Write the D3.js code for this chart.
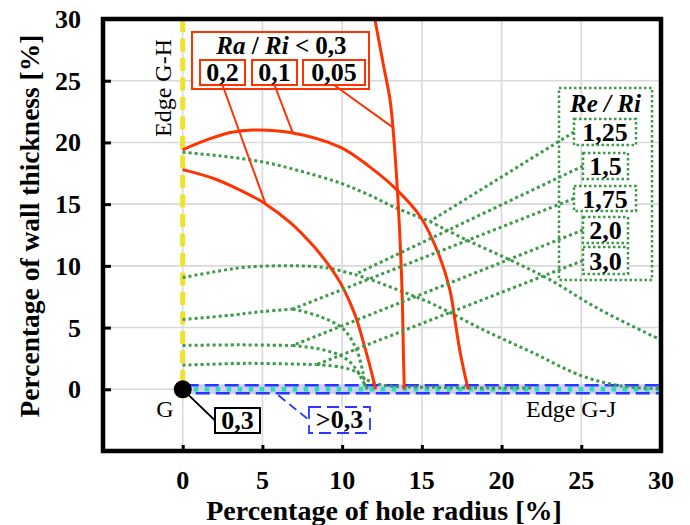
<!DOCTYPE html>
<html><head><meta charset="utf-8">
<script src="https://cdn.jsdelivr.net/npm/d3@7"></script>
<style>
body{margin:0;background:#fff}
svg{display:block}
text{font-family:"Liberation Serif","Times New Roman",serif;fill:#000}
</style>
</head><body>
<svg id="c" width="690" height="525"></svg>
<script>
// ---------- data ----------
const xTicks = [0, 5, 10, 15, 20, 25, 30];
const yTicks = [0, 5, 10, 15, 20, 25, 30];

// Ra/Ri curves (red)
const raNames = ["0,2", "0,1", "0,05"];
const ra02  = [[0,17.8],[1.9,17.1],[3.5,16.2],[5.1,15.1],[6.75,13.5],[8.2,11.6],[9.25,9.9],[9.9,8.6],[10.5,7.0],[10.9,5.7],[11.4,3.5],[11.8,1.6],[12.1,0]];
const ra01  = [[0,19.4],[1.5,20.2],[3.0,20.8],[4.4,21.0],[6.75,20.8],[9.9,19.6],[11.75,18.0],[13.4,16.2],[14.9,14.0],[16.1,10.8],[16.75,8.1],[17.1,5.4],[17.4,3.0],[17.9,0]];
const ra005 = [[12.05,30],[12.6,26.2],[13.0,23.5],[13.2,21.0],[13.5,15.4],[13.75,8.3],[13.85,2.5],[13.9,0]];
const raSeries = [ra02, ra01, ra005];
// leader anchor points on the red curves
const raAnchors = [[5.2,15.0],[6.9,20.8],[13.2,21.2]];

// Re/Ri curves (green dotted)
const reNames = ["1,25", "1,5", "1,75", "2,0", "3,0"];
const re125 = [[0,19.2],[2.4,18.9],[5.1,18.4],[7.6,17.6],[9.9,16.7],[11.6,15.8],[13.2,14.8],[15.5,13.6],[17.8,12.1],[20.5,10.5],[23,8.9],[26.1,6.5],[30,4.0]];
const re15  = [[0,9.05],[1.9,9.5],[4.0,9.9],[7.2,10.0],[9.0,9.85],[10.8,9.3],[11.75,8.9],[13.6,8.0],[15.7,6.9],[18.8,4.85],[21.9,3.0],[25,1.1],[27.6,0.25],[30,0.05]];
const re175 = [[0,5.66],[3,6.0],[5,6.3],[6.9,6.5],[8.6,5.9],[10.1,4.85],[10.9,3.2],[11.3,1.4],[11.45,0]];
const re20  = [[0,3.55],[3.5,3.6],[6.9,3.55],[8.8,3.2],[10.1,2.6],[10.9,1.6],[11.3,0.65],[11.6,0]];
const re30  = [[0,1.95],[4,2.1],[8.4,2.0],[9.9,1.8],[10.9,1.4],[11.5,0.8],[12.5,0.35],[16,0.15],[22,0.1]];
const reSeries = [re125, re15, re175, re20, re30];
// leader anchor points (kinks) on the green curves
const reAnchors = [[15.5,13.6],[10.8,9.3],[6.9,6.5],[6.9,3.55],[8.4,2.0]];

// edge G-J labels
const gjNames = ["0,3", ">0,3"];

// ---------- layout ----------
const x = d3.scaleLinear().domain([-5, 30]).range([103, 661]);
const y = d3.scaleLinear().domain([-5, 30]).range([451, 19]);

const svg = d3.select("#c");
const RED = "#ff3300", GREEN = "#3d9a48", BLUE = "#2a35ff", TEAL = "#22e2b2", YEL = "#eee22a";
const LBL = 26;   // box label font size

// gridlines
svg.append("g").selectAll("line").data(xTicks.filter(d => d < 30)).join("line")
  .attr("x1", d => x(d)).attr("x2", d => x(d)).attr("y1", y(-5)).attr("y2", y(30))
  .attr("stroke", "#d9d9d9").attr("stroke-width", 1.6);
svg.append("g").selectAll("line").data(yTicks.filter(d => d < 30)).join("line")
  .attr("y1", d => y(d)).attr("y2", d => y(d)).attr("x1", x(-5)).attr("x2", x(30))
  .attr("stroke", "#d9d9d9").attr("stroke-width", 1.6);

// axes via d3 axis (inward ticks)
const gx = svg.append("g").attr("transform", `translate(0,${y(-5)})`)
  .call(d3.axisBottom(x).tickValues(xTicks).tickSize(-6).tickFormat(""));
const gy = svg.append("g").attr("transform", `translate(${x(-5)},0)`)
  .call(d3.axisLeft(y).tickValues(yTicks).tickSize(-8).tickFormat(""));
[gx, gy].forEach(g => {
  g.select(".domain").remove();
  g.selectAll(".tick line").attr("stroke", "#000").attr("stroke-width", 3);
});
// tick labels
svg.append("g").selectAll("text").data(xTicks).join("text")
  .attr("x", d => x(d)).attr("y", 489).attr("text-anchor", "middle")
  .attr("font-size", 26).attr("font-weight", "bold").text(d => d);
svg.append("g").selectAll("text").data(yTicks).join("text")
  .attr("x", 81).attr("y", d => y(d) + 9).attr("text-anchor", "end")
  .attr("font-size", 26).attr("font-weight", "bold").text(d => d);

// axis titles
svg.append("text").attr("x", 384).attr("y", 520).attr("text-anchor", "middle")
  .attr("font-size", 28).attr("font-weight", "bold").text("Percentage of hole radius [%]");
svg.append("text").attr("transform", "translate(39,226) rotate(-90)").attr("text-anchor", "middle")
  .attr("font-size", 27.5).attr("font-weight", "bold").text("Percentage of wall thickness [%]");

const line = d3.line().x(d => x(d[0])).y(d => y(d[1])).curve(d3.curveCatmullRom.alpha(0.5));

// edge G-J band
svg.append("rect").attr("x", x(0)).attr("width", x(30) - x(0))
  .attr("y", y(0) - 5).attr("height", 10).attr("fill", "#cfd0f2");
svg.append("line").attr("x1", x(0) + 2).attr("x2", x(30)).attr("y1", y(0) - 4).attr("y2", y(0) - 4)
  .attr("stroke", BLUE).attr("stroke-width", 2.6).attr("stroke-dasharray", "14,6");
svg.append("line").attr("x1", x(0) + 2).attr("x2", x(30)).attr("y1", y(0) + 4).attr("y2", y(0) + 4)
  .attr("stroke", BLUE).attr("stroke-width", 2.6).attr("stroke-dasharray", "14,6").attr("stroke-dashoffset", 9);
svg.append("line").attr("x1", x(0)).attr("x2", x(30)).attr("y1", y(0)).attr("y2", y(0))
  .attr("stroke", TEAL).attr("stroke-width", 4.5).attr("stroke-dasharray", "4.5,6.5");

// edge G-H yellow dashed
svg.append("line").attr("x1", x(0)).attr("x2", x(0)).attr("y1", y(30)).attr("y2", y(0))
  .attr("stroke", YEL).attr("stroke-width", 5).attr("stroke-dasharray", "13,6.5");

// green curves split at kink
const gG = svg.append("g").attr("fill", "none").attr("stroke", GREEN)
  .attr("stroke-width", 3).attr("stroke-dasharray", "3,3");
reSeries.forEach((s, i) => {
  const k = reAnchors[i][0];
  const a = s.filter(p => p[0] <= k), b = s.filter(p => p[0] >= k);
  gG.append("path").attr("d", line(a));
  gG.append("path").attr("d", line(b));
});

// red curves
const gR = svg.append("g").attr("fill", "none").attr("stroke", RED).attr("stroke-width", 3);
raSeries.forEach(s => gR.append("path").attr("d", line(s)));

// ---- Ra/Ri legend ----
const raBox = {x: 192, y: 32, w: 177, h: 57};
const raSub = [{x: 200, w: 45}, {x: 252, w: 45}, {x: 303, w: 62}];
const subY = 60, subH = 25;
svg.append("rect").attr("x", raBox.x).attr("y", raBox.y).attr("width", raBox.w).attr("height", raBox.h)
  .attr("fill", "#fff").attr("stroke", RED).attr("stroke-width", 2);
const t1 = svg.append("text").attr("x", raBox.x + raBox.w / 2 + 1).attr("y", 54)
  .attr("text-anchor", "middle").attr("font-size", 25).attr("font-weight", "bold");
t1.append("tspan").attr("font-style", "italic").text("Ra");
t1.append("tspan").text(" / ");
t1.append("tspan").attr("font-style", "italic").text("Ri");
t1.append("tspan").text(" < 0,3");
raSub.forEach((b, i) => {
  svg.append("line").attr("x1", b.x + b.w / 2).attr("y1", subY + subH)
    .attr("x2", x(raAnchors[i][0])).attr("y2", y(raAnchors[i][1]))
    .attr("stroke", RED).attr("stroke-width", 2);
  svg.append("rect").attr("x", b.x).attr("y", subY).attr("width", b.w).attr("height", subH)
    .attr("fill", "#fff").attr("stroke", RED).attr("stroke-width", 2);
  svg.append("text").attr("x", b.x + b.w / 2).attr("y", subY + 21).attr("text-anchor", "middle")
    .attr("font-size", LBL).attr("font-weight", "bold").text(raNames[i]);
});

// ---- Re/Ri legend ----
const reBox = {x: 559, y: 88, w: 93, h: 192};
const reSub = [{x: 574, y: 119, w: 62, h: 26}, {x: 583, y: 153, w: 45, h: 26}, {x: 574, y: 186, w: 62, h: 25},
               {x: 583, y: 217, w: 45, h: 26}, {x: 583, y: 247, w: 45, h: 27}];
reSub.forEach((b, i) => {
  svg.append("line").attr("x1", b.x).attr("y1", b.y + b.h / 2)
    .attr("x2", x(reAnchors[i][0])).attr("y2", y(reAnchors[i][1]))
    .attr("stroke", GREEN).attr("stroke-width", 3).attr("stroke-dasharray", "3,3");
});
svg.append("rect").attr("x", reBox.x).attr("y", reBox.y).attr("width", reBox.w).attr("height", reBox.h)
  .attr("fill", "none").attr("stroke", GREEN).attr("stroke-width", 2.5).attr("stroke-dasharray", "2.5,2.5");
const t2 = svg.append("text").attr("x", reBox.x + reBox.w / 2).attr("y", 112)
  .attr("text-anchor", "middle").attr("font-size", 25).attr("font-weight", "bold").attr("font-style", "italic");
t2.append("tspan").text("Re");
t2.append("tspan").text(" / ");
t2.append("tspan").text("Ri");
reSub.forEach((b, i) => {
  svg.append("rect").attr("x", b.x).attr("y", b.y).attr("width", b.w).attr("height", b.h)
    .attr("fill", "#fff").attr("stroke", GREEN).attr("stroke-width", 2.5).attr("stroke-dasharray", "2.5,2.5");
  svg.append("text").attr("x", b.x + b.w / 2).attr("y", b.y + b.h / 2 + 9).attr("text-anchor", "middle")
    .attr("font-size", LBL).attr("font-weight", "bold").text(reNames[i]);
});

// ---- G point and labels ----
const b03 = {x: 215, y: 408, w: 45, h: 25};
const bgt = {x: 309, y: 407, w: 61, h: 26};
svg.append("line").attr("x1", x(0)).attr("y1", y(0)).attr("x2", b03.x).attr("y2", b03.y + b03.h / 2)
  .attr("stroke", "#000").attr("stroke-width", 1.8);
svg.append("line").attr("x1", x(6)).attr("y1", y(0) + 6).attr("x2", bgt.x).attr("y2", bgt.y + 13)
  .attr("stroke", BLUE).attr("stroke-width", 1.8).attr("stroke-dasharray", "9,5");
svg.append("circle").attr("cx", x(0)).attr("cy", y(0)).attr("r", 9).attr("fill", "#000");
svg.append("rect").attr("x", b03.x).attr("y", b03.y).attr("width", b03.w).attr("height", b03.h)
  .attr("fill", "#fff").attr("stroke", "#000").attr("stroke-width", 2);
svg.append("text").attr("x", b03.x + b03.w / 2).attr("y", b03.y + 21).attr("text-anchor", "middle")
  .attr("font-size", LBL).attr("font-weight", "bold").text(gjNames[0]);
svg.append("rect").attr("x", bgt.x).attr("y", bgt.y).attr("width", bgt.w).attr("height", bgt.h)
  .attr("fill", "#fff").attr("stroke", BLUE).attr("stroke-width", 1.8).attr("stroke-dasharray", "12,6");
svg.append("text").attr("x", bgt.x + bgt.w / 2).attr("y", bgt.y + 21).attr("text-anchor", "middle")
  .attr("font-size", LBL).attr("font-weight", "bold").text(gjNames[1]);

svg.append("text").attr("x", 165).attr("y", 417).attr("text-anchor", "middle")
  .attr("font-size", 24).text("G");
svg.append("text").attr("x", 571).attr("y", 417).attr("text-anchor", "middle")
  .attr("font-size", 24).text("Edge G-J");
svg.append("text").attr("transform", "translate(171,88) rotate(-90)").attr("text-anchor", "middle")
  .attr("font-size", 24).text("Edge G-H");

// frame
svg.append("rect").attr("x", x(-5)).attr("y", y(30)).attr("width", x(30) - x(-5)).attr("height", y(-5) - y(30))
  .attr("fill", "none").attr("stroke", "#000").attr("stroke-width", 4.5);
</script>
</body></html>
